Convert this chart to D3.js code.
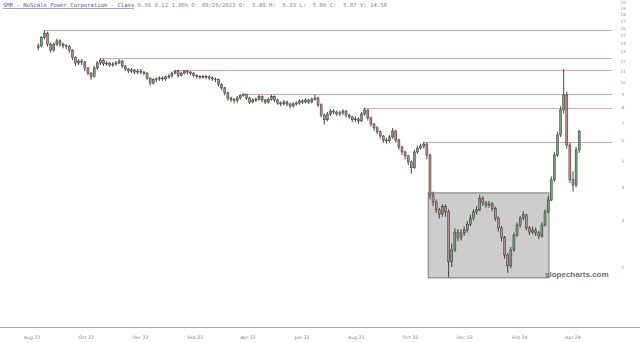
<!DOCTYPE html>
<html><head><meta charset="utf-8">
<script src="https://cdn.jsdelivr.net/npm/d3@7"></script>
<style>body{margin:0;background:#fff;overflow:hidden}svg{display:block}</style>
</head><body><svg id="c" width="640" height="343"></svg>
<script>
// ---- data ----
const firstBarDate = "2022-08-08";
const barStepDays = 3.5;
const firstOpen = 13.5;
const closes = [13.7,14.7,15.3,13.9,13.2,13.9,14.3,13.9,13.7,13.6,
13.2,12.4,11.8,12.0,11.9,11.3,10.8,10.5,11.3,11.8,
12.1,11.7,11.8,11.6,11.7,11.8,12.0,11.5,11.2,11.0,
11.1,10.9,11.0,10.9,10.8,10.35,9.9,10.2,10.27,10.35,
10.27,10.45,10.54,10.8,11.0,10.6,10.8,11.0,10.9,10.8,
10.6,10.5,10.45,10.5,10.45,10.35,10.27,10.2,9.8,9.5,
9.1,8.7,8.6,8.5,8.7,8.9,9.0,8.7,8.4,8.55,
8.6,8.8,8.55,8.4,8.6,8.8,8.55,8.33,8.26,8.4,
8.26,8.12,8.26,8.33,8.48,8.4,8.55,8.4,8.6,8.7,
8.2,7.5,7.2,7.57,7.77,7.7,7.57,7.64,7.77,7.5,
7.38,7.2,7.25,7.13,7.57,7.84,7.32,6.94,6.71,6.48,
6.25,6.04,5.99,6.2,6.53,6.04,5.68,5.44,5.26,4.99,
4.74,5.44,5.63,5.73,5.83,5.3,3.74,3.52,3.29,3.17,
3.38,3.23,2.09,2.32,2.71,2.58,2.69,2.76,2.9,3.06,
3.23,3.29,3.64,3.49,3.43,3.46,3.33,3.06,2.81,2.58,
2.22,2.02,2.32,2.64,2.88,3.06,3.15,2.81,2.71,2.76,
2.69,2.62,2.88,3.23,3.58,4.27,5.3,6.31,7.84,8.93,
5.78,4.27,4.08,5.54,6.5];
const highs = [14.0,14.9,15.7,15.5,14.1,14.1,14.6,14.5,14.1,13.9,
13.8,13.3,12.5,12.2,12.2,12.0,11.4,10.9,11.5,12.0,
12.3,12.2,12.0,11.9,11.9,12.0,12.2,12.1,11.6,11.3,
11.3,11.2,11.2,11.2,11.0,10.9,10.4,10.3,10.4,10.5,
10.5,10.6,10.7,10.95,11.1,11.1,10.95,11.1,11.1,11.0,
10.9,10.7,10.6,10.65,10.65,10.6,10.5,10.4,10.3,9.9,
9.6,9.2,8.8,8.7,8.85,9.0,9.05,9.0,8.8,8.7,
8.75,8.95,8.9,8.65,8.75,8.95,8.9,8.65,8.45,8.55,
8.5,8.35,8.4,8.45,8.6,8.6,8.7,8.65,8.75,8.95,
8.8,8.3,7.6,7.7,7.9,7.9,7.8,7.8,7.9,7.85,
7.6,7.45,7.4,7.35,7.7,8.0,7.9,7.4,7.0,6.8,
6.55,6.3,6.15,6.3,6.7,6.6,6.1,5.75,5.5,5.3,
5.05,5.55,5.75,5.85,5.93,5.9,5.35,3.85,3.6,3.35,
3.45,3.45,3.3,2.45,2.8,2.78,2.78,2.85,2.98,3.15,
3.3,3.4,3.75,3.7,3.55,3.55,3.52,3.38,3.1,2.86,
2.62,2.26,2.38,2.7,2.95,3.12,3.25,3.18,2.86,2.84,
2.82,2.74,2.95,3.3,3.7,4.4,5.45,6.5,8.1,11.2,
9.2,5.9,4.6,5.7,6.6];
const lows = [13.2,13.5,14.5,13.6,12.9,13.0,13.7,13.6,13.4,13.3,
12.9,12.1,11.5,11.6,11.6,11.0,10.6,10.2,10.4,11.1,
11.6,11.5,11.5,11.4,11.4,11.5,11.7,11.3,11.0,10.8,
10.8,10.7,10.7,10.7,10.6,10.2,9.7,9.8,10.0,10.1,
10.1,10.1,10.3,10.4,10.7,10.4,10.5,10.7,10.7,10.6,
10.4,10.3,10.25,10.3,10.25,10.15,10.1,10.0,9.6,9.3,
8.9,8.5,8.4,8.3,8.35,8.6,8.8,8.55,8.25,8.3,
8.4,8.5,8.4,8.25,8.3,8.5,8.4,8.2,8.1,8.15,
8.1,7.95,8.0,8.15,8.2,8.25,8.3,8.25,8.3,8.5,
8.05,7.35,6.9,7.1,7.45,7.55,7.45,7.45,7.5,7.35,
7.25,7.05,7.05,6.95,7.05,7.45,7.15,6.8,6.55,6.35,
6.1,5.9,5.85,5.9,6.1,5.9,5.55,5.3,5.1,4.85,
4.5,4.7,5.35,5.55,5.6,5.1,3.6,3.4,3.2,3.05,
3.1,3.1,1.83,2.0,2.28,2.5,2.52,2.62,2.7,2.85,
3.0,3.15,3.25,3.4,3.35,3.35,3.25,2.98,2.72,2.5,
2.15,1.9,1.98,2.28,2.6,2.82,3.0,2.75,2.64,2.66,
2.62,2.55,2.58,2.85,3.2,3.55,4.2,5.2,6.2,7.6,
5.6,4.15,3.85,4.0,5.4];
const levelPrices = [15.7, 12.3, 11.1, 9.0, 8.0, 5.93];
const levelStarts = ["2022-08-14","2022-10-17","2023-01-09","2023-03-26","2023-08-09","2023-10-15"];
const boxDates = ["2023-10-21","2024-03-05"];
const boxPrices = [3.81, 1.82];
const yTickValues = [2,3,4,5,6,7,8,9,10,11,12,13,14,15,16,17,18,19,20];
const xTickDates = ["2022-08-01","2022-10-01","2022-12-01","2023-02-01","2023-04-01","2023-06-01","2023-08-01","2023-10-01","2023-12-01","2024-02-01","2024-04-01"];
const xTickLabels = ["Aug 22","Oct 22","Dec 22","Feb 23","Apr 23","Jun 23","Aug 23","Oct 23","Dec 23","Feb 24","Apr 24"];
const headerTitle = "SMR - NuScale Power Corporation - Class";
const headerLast = " 6.56 0.12 ";
const headerPct = "1.86%";
const headerRest = " D: 09/26/2023 O:  5.09 H:  5.33 L:  5.06 C:  5.07 V: 14.58";

// ---- drawing ----
const svg = d3.select("#c");
const parse = d3.utcParse("%Y-%m-%d");
const x = d3.scaleUtc().domain([parse("2022-08-01"), parse("2024-04-01")]).range([32, 573]);
const y = d3.scaleLog().domain([2, 10]).range([267, 82]);
const plotRight = 612, plotBottom = 327;

const t0 = parse(firstBarDate);
const bars = closes.map((c, i) => ({
  date: new Date(t0.getTime() + i * barStepDays * 864e5),
  o: i ? closes[i - 1] : firstOpen, h: highs[i], l: lows[i], c
}));

const plot = svg.append("g");
plot.append("clipPath").attr("id","clp").append("rect").attr("x",0).attr("y",12).attr("width",plotRight).attr("height",plotBottom-12);

// box
plot.append("rect")
  .attr("x", x(parse(boxDates[0]))).attr("y", y(boxPrices[0]))
  .attr("width", x(parse(boxDates[1])) - x(parse(boxDates[0])))
  .attr("height", y(boxPrices[1]) - y(boxPrices[0]))
  .attr("fill", "#cdcdcd").attr("stroke", "#777777").attr("stroke-width", 1);

// level lines
levelPrices.forEach((p, i) => {
  plot.append("line")
    .attr("x1", x(parse(levelStarts[i]))).attr("x2", plotRight)
    .attr("y1", Math.round(y(p)) + 0.5).attr("y2", Math.round(y(p)) + 0.5)
    .attr("stroke", "#e6a3a6").attr("stroke-width", 1);
});

// candles
const cg = plot.append("g").attr("clip-path","url(#clp)");
const bw = 2.0;
cg.selectAll("line.w").data(bars).join("line")
  .attr("x1", d => x(d.date)).attr("x2", d => x(d.date))
  .attr("y1", d => y(d.h)).attr("y2", d => y(d.l))
  .attr("stroke", "#333333").attr("stroke-width", 0.9);
cg.selectAll("rect.b").data(bars).join("rect")
  .attr("x", d => x(d.date) - bw / 2)
  .attr("y", d => y(Math.max(d.o, d.c)))
  .attr("width", bw)
  .attr("height", d => Math.max(0.8, Math.abs(y(d.o) - y(d.c))))
  .attr("fill", d => d.c >= d.o ? "#6fa86f" : "#c98585")
  .attr("stroke", "#333333").attr("stroke-width", 0.5);

// y axis labels (right)
svg.append("g").selectAll("text").data(yTickValues).join("text")
  .attr("x", 623).attr("y", d => y(d) + 1.6)
  .attr("text-anchor", "middle")
  .attr("font-family", "DejaVu Sans").attr("font-size", 4.4).attr("fill", "#999999")
  .text(d => d);

// bottom axis line + labels
svg.append("line").attr("x1", 0).attr("x2", 640).attr("y1", plotBottom + 0.5).attr("y2", plotBottom + 0.5)
  .attr("stroke", "#a8a8a8").attr("stroke-width", 1);
svg.append("g").selectAll("text").data(xTickDates).join("text")
  .attr("x", d => x(parse(d))).attr("y", 339)
  .attr("text-anchor", "middle")
  .attr("font-family", "DejaVu Sans").attr("font-size", 4.6).attr("fill", "#808080")
  .text((d, i) => xTickLabels[i]);

// header
const ht = svg.append("text").attr("x", 3).attr("y", 7)
  .attr("font-family", "DejaVu Sans Mono").attr("font-size", 5.6)
  .style("white-space", "pre");
ht.append("tspan").attr("fill", "#5a5aa8").attr("text-decoration", "underline").text(headerTitle);
ht.append("tspan").attr("fill", "#8a8a8a").text(headerLast);
ht.append("tspan").attr("fill", "#5aa85a").text(headerPct);
ht.append("tspan").attr("fill", "#8a8a8a").text(headerRest);

// watermark
svg.append("text").attr("x", 545).attr("y", 277)
  .attr("font-family", "Liberation Sans, Arial, sans-serif").attr("font-weight", "bold")
  .attr("font-size", 8).attr("fill", "#6e6e6e").text("slopecharts.com");
</script></body></html>
